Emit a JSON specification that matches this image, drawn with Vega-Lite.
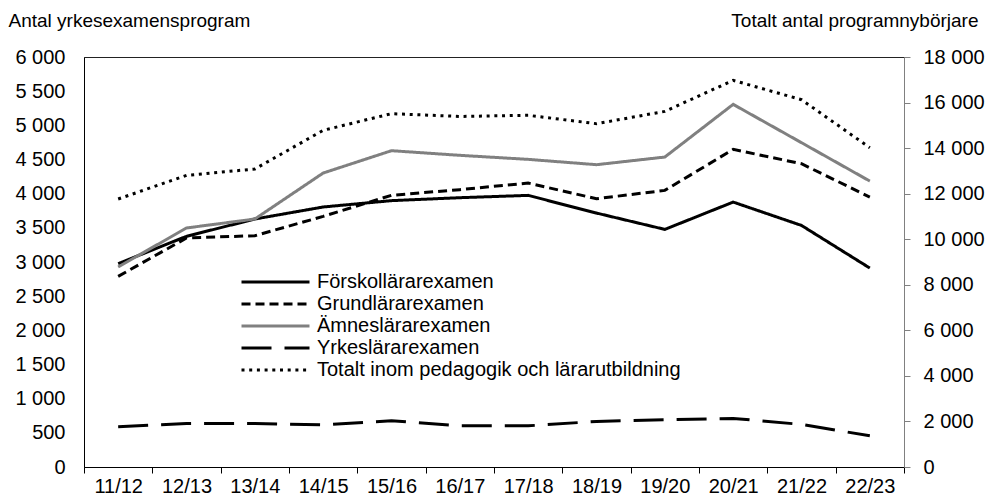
{
  "$schema": "https://vega.github.io/schema/vega-lite/v6.json",
  "width": 820,
  "height": 410,
  "autosize": {"type": "none"},
  "padding": {"left": 84, "top": 57, "right": 88, "bottom": 32},
  "background": "white",
  "config": {
    "font": "Liberation Sans",
    "view": {"stroke": "#222", "strokeWidth": 1},
    "axis": {"labelFont": "Liberation Sans", "titleFont": "Liberation Sans", "labelColor": "#000", "titleColor": "#000", "grid": false, "labelFontSize": 20, "titleFontSize": 19, "titleFontWeight": "normal"},
    "legend": {"labelFont": "Liberation Sans", "labelColor": "#000"}
  },
  "data": {
    "values": [
      {"serie": "Förskollärarexamen", "year": "11/12", "v": 2976},
      {"serie": "Förskollärarexamen", "year": "12/13", "v": 3376},
      {"serie": "Förskollärarexamen", "year": "13/14", "v": 3629},
      {"serie": "Förskollärarexamen", "year": "14/15", "v": 3805},
      {"serie": "Förskollärarexamen", "year": "15/16", "v": 3898},
      {"serie": "Förskollärarexamen", "year": "16/17", "v": 3941},
      {"serie": "Förskollärarexamen", "year": "17/18", "v": 3975},
      {"serie": "Förskollärarexamen", "year": "18/19", "v": 3716},
      {"serie": "Förskollärarexamen", "year": "19/20", "v": 3477},
      {"serie": "Förskollärarexamen", "year": "20/21", "v": 3877},
      {"serie": "Förskollärarexamen", "year": "21/22", "v": 3535},
      {"serie": "Förskollärarexamen", "year": "22/23", "v": 2911},
      {"serie": "Grundlärarexamen", "year": "11/12", "v": 2790},
      {"serie": "Grundlärarexamen", "year": "12/13", "v": 3351},
      {"serie": "Grundlärarexamen", "year": "13/14", "v": 3385},
      {"serie": "Grundlärarexamen", "year": "14/15", "v": 3668},
      {"serie": "Grundlärarexamen", "year": "15/16", "v": 3976},
      {"serie": "Grundlärarexamen", "year": "16/17", "v": 4059},
      {"serie": "Grundlärarexamen", "year": "17/18", "v": 4155},
      {"serie": "Grundlärarexamen", "year": "18/19", "v": 3926},
      {"serie": "Grundlärarexamen", "year": "19/20", "v": 4048},
      {"serie": "Grundlärarexamen", "year": "20/21", "v": 4648},
      {"serie": "Grundlärarexamen", "year": "21/22", "v": 4438},
      {"serie": "Grundlärarexamen", "year": "22/23", "v": 3950},
      {"serie": "Ämneslärarexamen", "year": "11/12", "v": 2927},
      {"serie": "Ämneslärarexamen", "year": "12/13", "v": 3498},
      {"serie": "Ämneslärarexamen", "year": "13/14", "v": 3629},
      {"serie": "Ämneslärarexamen", "year": "14/15", "v": 4302},
      {"serie": "Ämneslärarexamen", "year": "15/16", "v": 4629},
      {"serie": "Ämneslärarexamen", "year": "16/17", "v": 4561},
      {"serie": "Ämneslärarexamen", "year": "17/18", "v": 4502},
      {"serie": "Ämneslärarexamen", "year": "18/19", "v": 4424},
      {"serie": "Ämneslärarexamen", "year": "19/20", "v": 4536},
      {"serie": "Ämneslärarexamen", "year": "20/21", "v": 5307},
      {"serie": "Ämneslärarexamen", "year": "21/22", "v": 4746},
      {"serie": "Ämneslärarexamen", "year": "22/23", "v": 4184},
      {"serie": "Yrkeslärarexamen", "year": "11/12", "v": 588},
      {"serie": "Yrkeslärarexamen", "year": "12/13", "v": 637},
      {"serie": "Yrkeslärarexamen", "year": "13/14", "v": 637},
      {"serie": "Yrkeslärarexamen", "year": "14/15", "v": 618},
      {"serie": "Yrkeslärarexamen", "year": "15/16", "v": 676},
      {"serie": "Yrkeslärarexamen", "year": "16/17", "v": 603},
      {"serie": "Yrkeslärarexamen", "year": "17/18", "v": 603},
      {"serie": "Yrkeslärarexamen", "year": "18/19", "v": 667},
      {"serie": "Yrkeslärarexamen", "year": "19/20", "v": 691},
      {"serie": "Yrkeslärarexamen", "year": "20/21", "v": 711},
      {"serie": "Yrkeslärarexamen", "year": "21/22", "v": 623},
      {"serie": "Yrkeslärarexamen", "year": "22/23", "v": 456},
      {"serie": "Totalt inom pedagogik och lärarutbildning", "year": "11/12", "v": 11766},
      {"serie": "Totalt inom pedagogik och lärarutbildning", "year": "12/13", "v": 12804},
      {"serie": "Totalt inom pedagogik och lärarutbildning", "year": "13/14", "v": 13083},
      {"serie": "Totalt inom pedagogik och lärarutbildning", "year": "14/15", "v": 14781},
      {"serie": "Totalt inom pedagogik och lärarutbildning", "year": "15/16", "v": 15513},
      {"serie": "Totalt inom pedagogik och lärarutbildning", "year": "16/17", "v": 15390},
      {"serie": "Totalt inom pedagogik och lärarutbildning", "year": "17/18", "v": 15440},
      {"serie": "Totalt inom pedagogik och lärarutbildning", "year": "18/19", "v": 15072},
      {"serie": "Totalt inom pedagogik och lärarutbildning", "year": "19/20", "v": 15613},
      {"serie": "Totalt inom pedagogik och lärarutbildning", "year": "20/21", "v": 16975},
      {"serie": "Totalt inom pedagogik och lärarutbildning", "year": "21/22", "v": 16126},
      {"serie": "Totalt inom pedagogik och lärarutbildning", "year": "22/23", "v": 14018}
    ]
  },
  "encoding": {
    "x": {
      "field": "year",
      "type": "ordinal",
      "bandPosition": 0.5,
      "scale": {"type": "band", "paddingInner": 0, "paddingOuter": 0},
      "axis": {"title": null, "labelAngle": 0, "domainColor": "#000", "tickColor": "#000", "tickSize": 6, "tickBand": "extent", "labelPadding": 3}
    },
    "color": {
      "field": "serie",
      "type": "nominal",
      "scale": {
        "domain": ["Förskollärarexamen", "Grundlärarexamen", "Ämneslärarexamen", "Yrkeslärarexamen", "Totalt inom pedagogik och lärarutbildning"],
        "range": ["#000000", "#000000", "#808080", "#000000", "#000000"]
      },
      "legend": {
        "title": null, "orient": "none", "legendX": 156, "legendY": 215, "padding": 0,
        "symbolType": "M-1,0H7", "symbolSize": 289, "symbolStrokeWidth": 3,
        "labelFontSize": 20, "labelOffset": 57, "rowPadding": 2, "labelLimit": 600
      }
    },
    "strokeDash": {
      "field": "serie",
      "type": "nominal",
      "scale": {
        "domain": ["Förskollärarexamen", "Grundlärarexamen", "Ämneslärarexamen", "Yrkeslärarexamen", "Totalt inom pedagogik och lärarutbildning"],
        "range": [[1, 0], [9, 5], [1, 0], [30, 13], [3, 4.7]]
      },
      "legend": {
        "title": null, "orient": "none", "legendX": 156, "legendY": 215, "padding": 0,
        "symbolType": "M-1,0H7", "symbolSize": 289, "symbolStrokeWidth": 3,
        "labelFontSize": 20, "labelOffset": 57, "rowPadding": 2, "labelLimit": 600
      }
    }
  },
  "layer": [
    {
      "transform": [{"filter": "datum.serie !== 'Totalt inom pedagogik och lärarutbildning'"}],
      "mark": {"type": "line", "strokeWidth": 3},
      "encoding": {
        "y": {
          "field": "v", "type": "quantitative",
          "scale": {"domain": [0, 6000], "nice": false, "zero": true},
          "axis": {
            "orient": "left",
            "values": [0, 500, 1000, 1500, 2000, 2500, 3000, 3500, 4000, 4500, 5000, 5500, 6000],
            "labelExpr": "replace(format(datum.value, ','), ',', ' ')",
            "ticks": false, "tickSize": 0, "labelPadding": 19, "domainColor": "#000",
            "title": "Antal yrkesexamensprogram", "titleAngle": 0, "titleAlign": "left", "titleBaseline": "alphabetic",
            "titleX": -76, "titleY": -31
          }
        }
      }
    },
    {
      "transform": [{"filter": "datum.serie === 'Totalt inom pedagogik och lärarutbildning'"}],
      "mark": {"type": "line", "strokeWidth": 3},
      "encoding": {
        "y": {
          "field": "v", "type": "quantitative",
          "scale": {"domain": [0, 18000], "nice": false, "zero": true},
          "axis": {
            "orient": "right",
            "values": [0, 2000, 4000, 6000, 8000, 10000, 12000, 14000, 16000, 18000],
            "labelExpr": "replace(format(datum.value, ','), ',', ' ')",
            "tickSize": 6, "tickColor": "#808080", "labelPadding": 13, "domainColor": "#808080",
            "title": "Totalt antal programnybörjare", "titleAngle": 0, "titleAlign": "right", "titleBaseline": "alphabetic",
            "titleX": 74, "titleY": -31
          }
        }
      }
    }
  ],
  "resolve": {"scale": {"y": "independent"}}
}
